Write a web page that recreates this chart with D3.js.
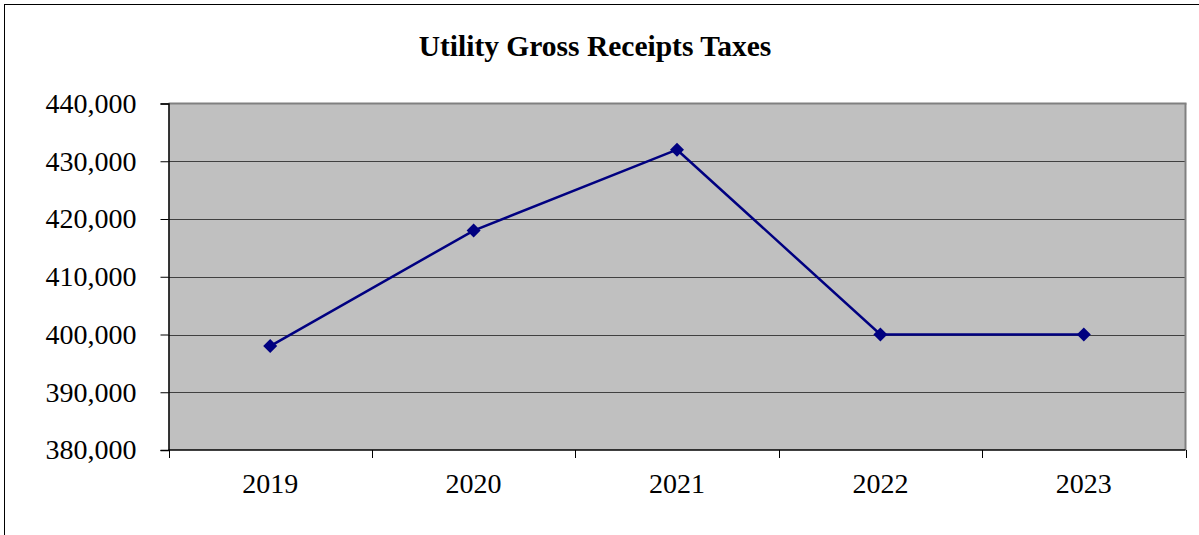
<!DOCTYPE html>
<html><head><meta charset="utf-8">
<script src="https://cdn.jsdelivr.net/npm/d3@7"></script>
<style>body{margin:0;background:#fff;}svg{display:block;}</style>
</head><body>
<svg id="c" width="1199" height="535"></svg>
<script>
const categories = ["2019","2020","2021","2022","2023"];
const values = [398000, 418000, 432000, 400000, 400000];
const yTicks = [380000, 390000, 400000, 410000, 420000, 430000, 440000];
const title = "Utility Gross Receipts Taxes";

const svg = d3.select("#c");
const L = 168.5, R = 1185.5, T = 103.5, B = 450;

// outer frame (extends past picture on right/bottom)
svg.append("rect").attr("x",4.5).attr("y",4.5).attr("width",1300).attr("height",700)
  .attr("fill","#fff").attr("stroke","#000").attr("stroke-width",1);

const x = d3.scaleBand().domain(categories).range([L, R]).padding(0);
const y = d3.scaleLinear().domain([380000, 440000]).range([B, T]);

// plot area
svg.append("rect").attr("x",L).attr("y",T).attr("width",R-L).attr("height",B-T).attr("fill","#c0c0c0");

// gridlines
svg.append("g").selectAll("line").data(yTicks.slice(1,-1)).join("line")
  .attr("x1",L).attr("x2",R).attr("y1",d=>Math.round(y(d))+0.5).attr("y2",d=>Math.round(y(d))+0.5)
  .attr("stroke","#404040").attr("stroke-width",1);

// plot border: top/right gray, left/bottom black
svg.append("line").attr("x1",L).attr("x2",R+1).attr("y1",T).attr("y2",T).attr("stroke","#808080").attr("stroke-width",2);
svg.append("line").attr("x1",R).attr("x2",R).attr("y1",T).attr("y2",B).attr("stroke","#808080").attr("stroke-width",2);

// y axis
const yAxis = d3.axisLeft(y).tickValues(yTicks).tickSize(8).tickPadding(24)
  .tickFormat(d3.format(","));
const gy = svg.append("g").attr("transform",`translate(${L},0)`).call(yAxis);
gy.select(".domain").attr("stroke","#000").attr("stroke-width",1.5);
gy.selectAll(".tick line").attr("stroke","#000");
gy.selectAll("text").attr("font-family","'Liberation Serif', 'Times New Roman', serif")
  .attr("font-size",28).attr("fill","#000");

// x axis
const tickPos = categories.map(c=>x(c)).concat([R]);
const gx = svg.append("g");
gx.append("line").attr("x1",L).attr("x2",R).attr("y1",B).attr("y2",B).attr("stroke","#000").attr("stroke-width",1.5);
gx.selectAll("line.t").data(tickPos).join("line").attr("class","t")
  .attr("x1",d=>Math.round(d)+0.5).attr("x2",d=>Math.round(d)+0.5).attr("y1",B).attr("y2",B+8)
  .attr("stroke","#000").attr("stroke-width",1);
gx.selectAll("text").data(categories).join("text")
  .attr("x",d=>x(d)+x.bandwidth()/2).attr("y",493)
  .attr("text-anchor","middle")
  .attr("font-family","'Liberation Serif', 'Times New Roman', serif")
  .attr("font-size",28).attr("fill","#000").text(d=>d);

// line
const pts = categories.map((c,i)=>[x(c)+x.bandwidth()/2, y(values[i])]);
svg.append("path").datum(pts).attr("d",d3.line())
  .attr("fill","none").attr("stroke","#000080").attr("stroke-width",2.5);
svg.append("g").selectAll("path").data(pts).join("path")
  .attr("transform",d=>`translate(${d[0]},${d[1]})`)
  .attr("d","M0,-7L7,0L0,7L-7,0Z")
  .attr("fill","#000080");

// title
svg.append("text").attr("x",595).attr("y",56).attr("text-anchor","middle")
  .attr("font-family","'Liberation Serif', 'Times New Roman', serif")
  .attr("font-weight","bold").attr("font-size",29.5).attr("fill","#000").text(title);
</script>
</body></html>
